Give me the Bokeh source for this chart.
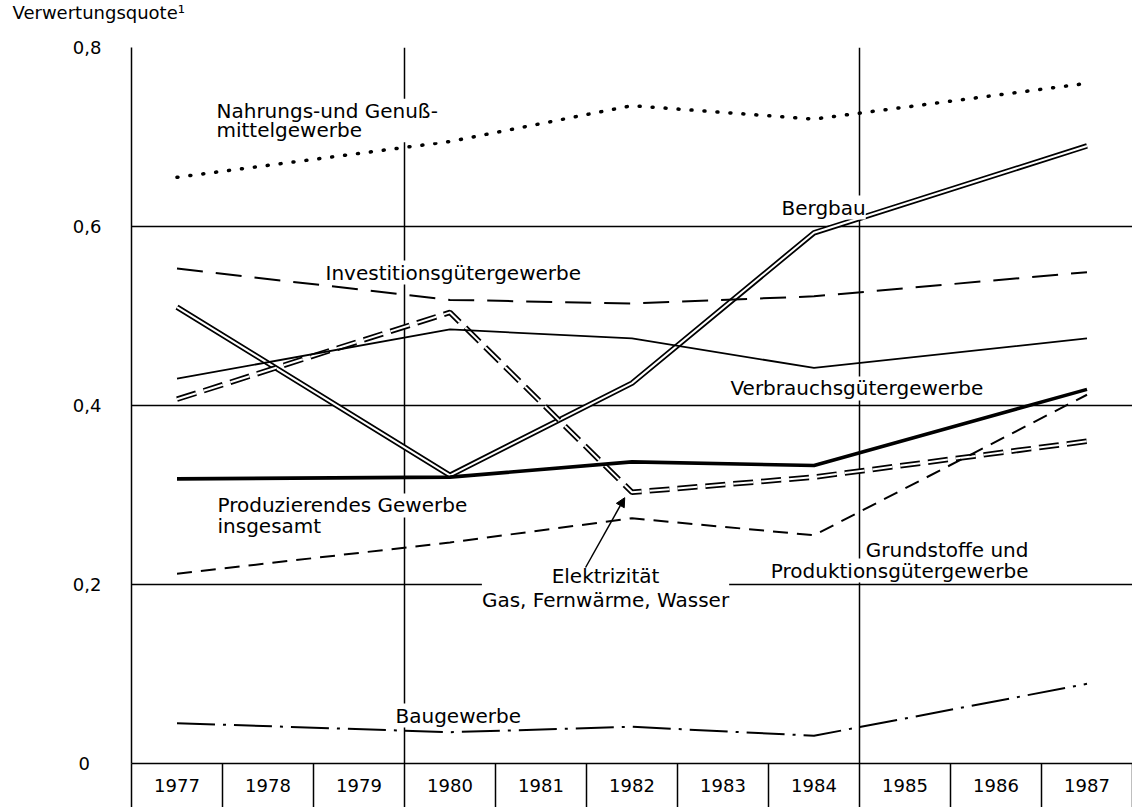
from bokeh.plotting import figure
from bokeh.models import Range1d, FixedTicker, Label, Arrow, NormalHead, Title
from bokeh.embed import file_html
from bokeh.resources import INLINE

# ---------------- data ----------------
years = list(range(1977, 1988))
year_labels = [str(y) for y in years]
data_years = [1977, 1980, 1982, 1984, 1987]

nahrung = [0.655, 0.695, 0.735, 0.720, 0.760]
bergbau = [0.510, 0.322, 0.425, 0.593, 0.690]
invest = [0.553, 0.518, 0.514, 0.522, 0.549]
verbrauch = [0.430, 0.485, 0.475, 0.442, 0.475]
produz = [0.318, 0.320, 0.337, 0.333, 0.418]
elektr = [0.407, 0.504, 0.303, 0.320, 0.360]
grund = [0.212, 0.247, 0.274, 0.255, 0.412]
bau = [0.045, 0.035, 0.041, 0.031, 0.089]

y_ticks = [0, 0.2, 0.4, 0.6, 0.8]
y_tick_labels = ["0\u00a0\u00a0", "0,2", "0,4", "0,6", "0,8"]
grid_levels = [0.2, 0.4, 0.6, 0.8]
divider_years = [1979.5, 1984.5]

# ---------------- layout ----------------
FONT = "DejaVu Sans"
W, H = 1132, 807
ML, MT, MB = 131, 47, 44
YEAR_W = 91
frame_w = W - ML
x0 = years[0] - 0.5

p = figure(width=W, height=H, title=None,
           x_range=Range1d(x0, x0 + frame_w / YEAR_W),
           y_range=Range1d(0, 0.8),
           output_backend="svg", toolbar_location=None,
           min_border_left=ML, min_border_right=0,
           min_border_top=MT, min_border_bottom=MB)
p.outline_line_color = None
p.background_fill_color = "white"
p.border_fill_color = "white"

# spacer title next to the frame, then the y-quantity caption above it
p.add_layout(Title(text="\u00a0", text_font=FONT, text_font_size="18px",
                   standoff=0), "above")
p.add_layout(Title(text="Verwertungsquote\u00b9", align="left", vertical_align="top",
                   offset=-119, standoff=0, text_font=FONT, text_font_size="18px",
                   text_font_style="normal", text_color="black"), "above")

# x axis = row of year boxes
xa = p.xaxis[0]
xa.ticker = FixedTicker(ticks=years,
                        minor_ticks=[y - 0.5 for y in years] + [years[-1] + 0.5])
xa.major_label_overrides = {y: s for y, s in zip(years, year_labels)}
xa.major_tick_in = 0
xa.major_tick_out = 0
xa.minor_tick_in = 0
xa.minor_tick_out = MB
xa.minor_tick_line_color = "black"
xa.minor_tick_line_width = 1.5
xa.axis_line_color = "black"
xa.axis_line_width = 1.5
xa.major_label_text_font = FONT
xa.major_label_text_font_size = "18px"
xa.major_label_text_color = "black"
xa.major_label_standoff = -29

ya = p.yaxis[0]
ya.ticker = FixedTicker(ticks=y_ticks)
ya.major_label_overrides = {t: s for t, s in zip(y_ticks, y_tick_labels)}
ya.major_tick_in = 0
ya.major_tick_out = 0
ya.minor_tick_in = 0
ya.minor_tick_out = 0
ya.axis_line_color = "black"
ya.axis_line_width = 1.5
ya.major_label_text_font = FONT
ya.major_label_text_font_size = "18px"
ya.major_label_text_color = "black"
ya.major_label_standoff = 30

p.ygrid.ticker = FixedTicker(ticks=grid_levels)
p.ygrid.grid_line_color = "black"
p.ygrid.grid_line_width = 1.3
p.xgrid.ticker = FixedTicker(ticks=divider_years)
p.xgrid.grid_line_color = "black"
p.xgrid.grid_line_width = 1.5

# ---------------- lines ----------------
# double lines first (white core)
p.line(data_years, bergbau, line_color="black", line_width=5.5)
p.line(data_years, bergbau, line_color="white", line_width=2)
p.line(data_years, elektr, line_color="black", line_width=5.5, line_dash="20 8")
p.line(data_years, elektr, line_color="white", line_width=2, line_dash="20 8")

p.line(data_years, nahrung, line_color="black", line_width=3.5,
       line_dash="1 12", line_cap="round")
p.line(data_years, invest, line_color="black", line_width=2, line_dash="26 13")
p.line(data_years, verbrauch, line_color="black", line_width=1.8)
p.line(data_years, produz, line_color="black", line_width=3.6)
p.line(data_years, grund, line_color="black", line_width=2, line_dash="15 9")
p.line(data_years, bau, line_color="black", line_width=2, line_dash="38 8 3 8")


# ---------------- labels ----------------
def lab(text, x, y, align="left", baseline="alphabetic", lh=1.2):
    p.add_layout(Label(x=x, y=y, text=text, text_font=FONT, text_font_size="20px",
                       text_color="black", text_align=align, text_baseline=baseline,
                       text_line_height=lh, background_fill_color="white"))


lab("Nahrungs-und Genuß-\nmittelgewerbe", 1977.434, 0.7184, baseline="middle", lh=0.82)
lab("Bergbau", 1983.643, 0.6212)
lab("Investitionsgütergewerbe", 1978.632, 0.5486)
lab("Verbrauchsgütergewerbe", 1983.082, 0.4190)
lab("Produzierendes Gewerbe", 1977.445, 0.2883)
lab("insgesamt", 1977.445, 0.2659)
lab("Elektrizität\nGas, Fernwärme, Wasser", 1981.709, 0.1961,
    align="center", baseline="middle", lh=1.03)
lab("Grundstoffe und", 1986.357, 0.2391, align="right")
lab("Produktionsgütergewerbe", 1986.357, 0.2156, align="right")
lab("Baugewerbe", 1979.401, 0.0536)

p.add_layout(Arrow(end=NormalHead(size=9, fill_color="black", line_color="black"),
                   x_start=1981.49, y_start=0.219,
                   x_end=data_years[2] - 0.08, y_end=elektr[2] - 0.006,
                   line_color="black", line_width=1.5))

open("out.html", "w").write(file_html(p, INLINE))
